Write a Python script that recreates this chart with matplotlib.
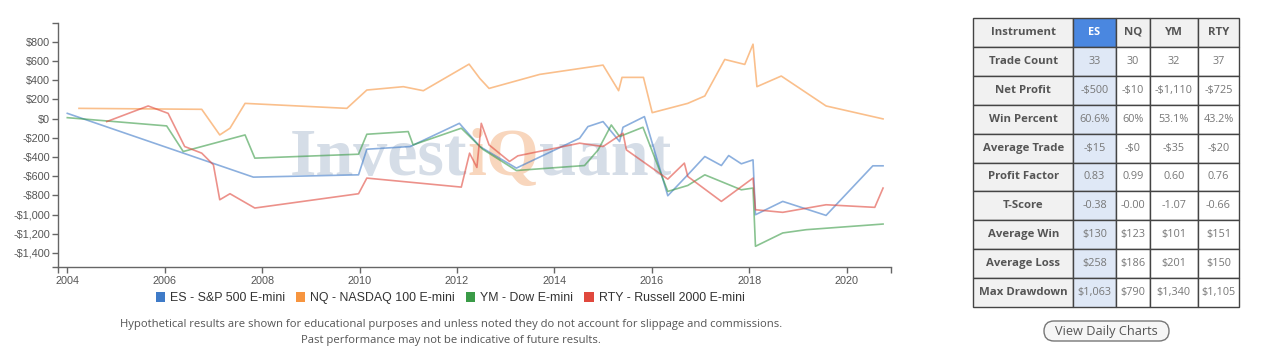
import matplotlib
matplotlib.use("Agg")
import matplotlib.pyplot as plt
from matplotlib.patches import Rectangle, FancyBboxPatch, Patch
from matplotlib.ticker import FuncFormatter

# === Equity curves ===
es_x = [2004.0, 2007.82, 2009.98, 2010.15, 2011.04, 2012.05, 2012.47, 2013.22, 2014.52, 2014.69,
        2015.0, 2015.34, 2015.41, 2015.85, 2016.33, 2016.74, 2017.09, 2017.43, 2017.58, 2017.84,
        2018.08, 2018.13, 2018.69, 2019.58, 2020.54, 2020.75]
es_y = [55, -610, -586, -319, -291, -49, -291, -516, -204, -83,
        -31, -239, -90, 21, -804, -586, -395, -489, -385, -471,
        -430, -1002, -863, -1009, -492, -492]

nq_x = [2004.24, 2006.76, 2007.13, 2007.34, 2007.65, 2009.74, 2010.15, 2010.9, 2011.31, 2012.25,
        2012.47, 2012.66, 2013.70, 2015.0, 2015.32, 2015.39, 2015.83, 2016.01, 2016.74, 2017.09,
        2017.50, 2017.91, 2018.08, 2018.16, 2018.66, 2019.58, 2020.75]
nq_y = [107, 97, -170, -100, 159, 107, 298, 333, 291, 568,
        419, 315, 461, 558, 291, 430, 430, 62, 159, 236,
        617, 565, 776, 333, 444, 132, -3]

ym_x = [2004.0, 2006.04, 2006.38, 2007.65, 2007.85, 2009.98, 2010.15, 2011.0, 2011.1, 2012.09,
        2012.53, 2013.22, 2014.62, 2014.9, 2015.17, 2015.34, 2015.82, 2016.33, 2016.74, 2017.09,
        2017.84, 2018.08, 2018.13, 2018.69, 2019.17, 2020.75]
ym_y = [10, -76, -343, -170, -412, -371, -163, -135, -274, -100,
        -319, -541, -489, -326, -66, -187, -90, -759, -697, -586,
        -742, -724, -1331, -1192, -1158, -1099]

rty_x = [2004.81, 2005.66, 2006.07, 2006.41, 2006.76, 2007.0, 2007.13, 2007.34, 2007.85, 2009.98,
         2010.15, 2012.09, 2012.26, 2012.41, 2012.5, 2012.66, 2013.08, 2013.25, 2014.52, 2015.0,
         2015.41, 2015.48, 2016.33, 2016.67, 2016.74, 2017.43, 2018.08, 2018.13, 2018.69, 2019.58,
         2020.58, 2020.75]
rty_y = [-31, 132, 55, -291, -360, -482, -846, -783, -932, -783,
         -620, -714, -360, -509, -49, -274, -447, -388, -256, -291,
         -152, -326, -631, -464, -603, -863, -620, -950, -977, -898,
         -925, -724]

series_labels = ["ES - S&P 500 E-mini", "NQ - NASDAQ 100 E-mini", "YM - Dow E-mini", "RTY - Russell 2000 E-mini"]
series_colors = ["#3f7bc8", "#f7953f", "#3a9b47", "#e0483d"]

# === Stats table ===
table_header = ["Instrument", "ES", "NQ", "YM", "RTY"]
row_labels = ["Trade Count", "Net Profit", "Win Percent", "Average Trade", "Profit Factor",
              "T-Score", "Average Win", "Average Loss", "Max Drawdown"]
es_col = ["33", "-$500", "60.6%", "-$15", "0.83", "-0.38", "$130", "$258", "$1,063"]
nq_col = ["30", "-$10", "60%", "-$0", "0.99", "-0.00", "$123", "$186", "$790"]
ym_col = ["32", "-$1,110", "53.1%", "-$35", "0.60", "-1.07", "$101", "$201", "$1,340"]
rty_col = ["37", "-$725", "43.2%", "-$20", "0.76", "-0.66", "$151", "$150", "$1,105"]

y_ticks = list(range(-1400, 801, 200))
x_ticks = list(range(2004, 2021, 2))

W, H = 1267, 352
fig = plt.figure(figsize=(W / 100, H / 100), dpi=100)
fig.patch.set_facecolor("white")

# pixel-space overlay for watermark, table, button
pax = fig.add_axes([0, 0, 1, 1], zorder=0)
pax.set_xlim(0, W)
pax.set_ylim(H, 0)
pax.axis("off")

# --- watermark ---
fig.canvas.draw()
renderer = fig.canvas.get_renderer()
wx = 290
for piece, col in [("Invest", "#d5dde7"), ("iQ", "#f8d6bd"), ("uant", "#d5dde7")]:
    t = pax.text(wx, 175, piece, fontsize=49, family="Liberation Serif", fontweight="bold",
                 color=col, ha="left", va="baseline", zorder=0)
    wx = t.get_window_extent(renderer).x1

# === Main chart ===
ax = fig.add_axes([58.3 / W, 1 - 267.3 / H, (890.7 - 58.3) / W, (267.3 - 22.7) / H], zorder=1)
ax.set_facecolor("none")
for xs, ys, c in zip([es_x, nq_x, ym_x, rty_x], [es_y, nq_y, ym_y, rty_y], series_colors):
    ax.plot(xs, ys, color=c, alpha=0.6, linewidth=1.2)

xmin, xmax = 2003.815, 2020.907
ymin, ymax = -1550, 1000
ax.set_xlim(xmin, xmax)
ax.set_ylim(ymin, ymax)
ax.set_yticks(y_ticks)
ax.set_xticks(x_ticks)
ax.set_yticks([ymin, ymax], minor=True)
ax.set_xticks([xmin, xmax], minor=True)
ax.yaxis.set_major_formatter(FuncFormatter(lambda v, p: f"-${abs(v):,.0f}" if v < 0 else f"${v:,.0f}"))
ax.tick_params(which="both", length=4, width=1, color="#666", labelsize=7.8, labelcolor="#555", pad=2)
for lbl in ax.get_xticklabels() + ax.get_yticklabels():
    lbl.set_family("Liberation Sans")
for s in ["top", "right"]:
    ax.spines[s].set_visible(False)
for s in ["left", "bottom"]:
    ax.spines[s].set_color("#666")
    ax.spines[s].set_linewidth(1)

# legend
handles = [Patch(facecolor=c, edgecolor="none") for c in series_colors]
fig.legend(handles, series_labels, loc="center", bbox_to_anchor=(450 / W, 1 - 298 / H), ncol=4,
           frameon=False, prop={"family": "Liberation Sans", "size": 8.9}, handlelength=0.75,
           handleheight=0.9, handletextpad=0.4, columnspacing=0.9, labelcolor="#333")

fig.text(451 / W, 1 - 325 / H,
         "Hypothetical results are shown for educational purposes and unless noted they do not account for slippage and commissions.",
         ha="center", va="center", fontsize=8.1, family="Open Sans", color="#555")
fig.text(451 / W, 1 - 340 / H, "Past performance may not be indicative of future results.",
         ha="center", va="center", fontsize=8.1, family="Open Sans", color="#555")

# === Table ===
col_edges = [973.3, 1073.3, 1115.7, 1150.0, 1197.7, 1239.3]
top, row_h = 17.7, 28.96
rows = [table_header] + [[lab, a, b, c, d] for lab, a, b, c, d in zip(row_labels, es_col, nq_col, ym_col, rty_col)]
for r, row in enumerate(rows):
    y0 = top + r * row_h
    for c, val in enumerate(row):
        x0, x1 = col_edges[c], col_edges[c + 1]
        fs = 7.8
        if r == 0 and c == 1:
            fc, tc, wt = "#4a87e0", "white", "bold"
        elif c == 1:
            fc, tc, wt = "#dfe8f6", "#777", "normal"
        elif r == 0 or c == 0:
            fc, tc, wt, fs = "#f1f1f1", "#555", "bold", 8.2
        else:
            fc, tc, wt = "white", "#777", "normal"
        pax.add_patch(Rectangle((x0, y0), x1 - x0, row_h, facecolor=fc, edgecolor="#444", linewidth=1, zorder=2))
        pax.text((x0 + x1) / 2, y0 + row_h / 2, val, ha="center", va="center", fontsize=fs,
                 family="Open Sans", color=tc, fontweight=wt, zorder=3)

# button
pax.add_patch(FancyBboxPatch((1044, 321), 125, 20, boxstyle="round,pad=0,rounding_size=10",
                             facecolor="#f6f6f6", edgecolor="#777", linewidth=1, zorder=2))
pax.text(1106.5, 331.5, "View Daily Charts", ha="center", va="center", fontsize=9.2,
         family="Open Sans", color="#555", zorder=3)

fig.savefig("out.png", dpi=100)
